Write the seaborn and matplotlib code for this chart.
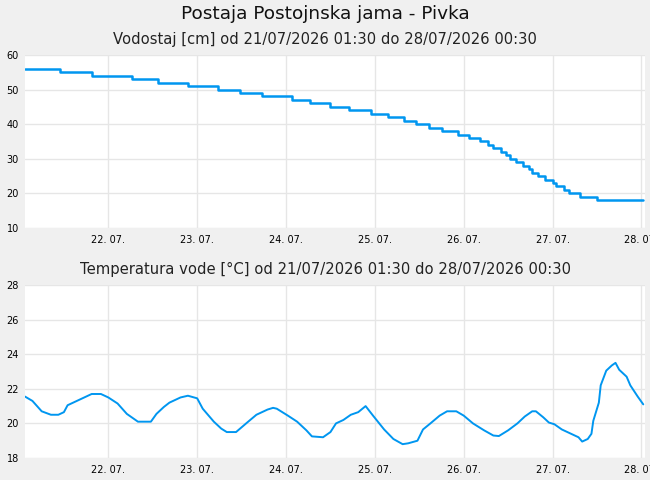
#!/usr/bin/env python3
"""Postaja Postojnska jama - Pivka: water level and water temperature."""
import matplotlib
matplotlib.use("Agg")
import matplotlib.dates as mdates
import matplotlib.pyplot as plt
import pandas as pd
import seaborn as sns

START = "2026-07-21 01:30"
END = "2026-07-28 00:30"

# water level: times at which the reading changes, and the new level (cm)
level_times = [
    "21 01:30", "21 11:00", "21 19:30", "22 06:30", "22 13:30", "22 21:30",
    "23 05:30", "23 11:30", "23 17:30", "24 01:30", "24 06:30", "24 12:00",
    "24 17:00", "24 23:00", "25 03:30", "25 08:00", "25 11:00", "25 14:30",
    "25 18:00", "25 22:30", "26 01:30", "26 04:30", "26 06:30", "26 08:00",
    "26 10:00", "26 11:30", "26 12:30", "26 14:00", "26 16:00", "26 17:30",
    "26 18:30", "26 20:00", "26 22:00", "27 00:00", "27 01:00", "27 03:00",
    "27 04:30", "27 07:30", "27 12:00", "28 00:30",
]
level_cm = [
    56, 55, 54, 53, 52, 51,
    50, 49, 48, 47, 46, 45,
    44, 43, 42, 41, 40, 39,
    38, 37, 36, 35, 34, 33,
    32, 31, 30, 29, 28, 27,
    26, 25, 24, 23, 22, 21,
    20, 19, 18, 18,
]

# water temperature (deg C)
temp_times = [
    "21 01:30", "21 03:30", "21 06:00", "21 08:30", "21 10:30", "21 12:00",
    "21 13:00", "21 14:30", "21 17:30", "21 19:30", "21 22:00", "22 00:00",
    "22 02:30", "22 05:00", "22 08:00", "22 11:30", "22 13:00", "22 15:00",
    "22 16:30", "22 19:30", "22 21:30", "23 00:00", "23 01:30", "23 04:30",
    "23 06:30", "23 08:00", "23 10:30", "23 13:30", "23 16:00", "23 19:00",
    "23 20:30", "23 21:30", "24 00:30", "24 03:00", "24 05:30", "24 07:00",
    "24 10:00", "24 12:00", "24 13:30", "24 15:30", "24 17:30", "24 19:30",
    "24 21:30", "24 23:30", "25 02:30", "25 05:00", "25 07:30", "25 09:00",
    "25 11:30", "25 13:00", "25 15:00", "25 17:30", "25 19:30", "25 22:00",
    "26 00:00", "26 02:30", "26 05:30", "26 08:00", "26 09:30", "26 12:00",
    "26 14:30", "26 16:30", "26 18:30", "26 19:30", "26 21:30", "26 23:00",
    "27 00:30", "27 02:30", "27 04:30", "27 07:00", "27 08:00", "27 09:30",
    "27 10:30", "27 11:00", "27 12:30", "27 13:00", "27 14:30", "27 16:00",
    "27 17:00", "27 18:00", "27 20:00", "27 21:00", "27 23:00", "28 00:30",
]
temp_c = [
    21.55, 21.3, 20.7, 20.5, 20.5, 20.65,
    21.05, 21.2, 21.5, 21.7, 21.7, 21.5,
    21.15, 20.55, 20.1, 20.1, 20.55, 20.95,
    21.2, 21.5, 21.6, 21.45, 20.85, 20.1,
    19.7, 19.5, 19.5, 20.05, 20.5, 20.8,
    20.9, 20.85, 20.45, 20.1, 19.6, 19.25,
    19.2, 19.5, 20.0, 20.2, 20.5, 20.65,
    21.0, 20.45, 19.65, 19.1, 18.8, 18.85,
    19.0, 19.65, 20.0, 20.45, 20.7, 20.7,
    20.45, 20.0, 19.6, 19.3, 19.27, 19.6,
    20.0, 20.4, 20.7, 20.7, 20.35, 20.05,
    19.95, 19.65, 19.45, 19.2, 18.95, 19.1,
    19.4, 20.15, 21.2, 22.2, 23.05, 23.35,
    23.5, 23.1, 22.7, 22.2, 21.55, 21.1,
]

BG = "#f0f0f0"
LINE = "#0096f0"
GRID = "#e6e6e6"


def to_dt(labels):
    return pd.to_datetime(["2026-07-" + s for s in labels], format="%Y-%m-%d %H:%M")


def style_axis(ax, ylim, yticks):
    ax.set_facecolor("white")
    ax.set_xlim(pd.Timestamp(START), pd.Timestamp(END) + pd.Timedelta(minutes=30))
    ax.set_ylim(*ylim)
    ax.set_yticks(yticks)
    ax.xaxis.set_major_locator(mdates.DayLocator())
    ax.xaxis.set_major_formatter(mdates.DateFormatter("%d. %m."))
    ax.grid(True, color=GRID, linewidth=1)
    for s in ax.spines.values():
        s.set_visible(False)
    ax.tick_params(length=0, labelsize=7, colors="black")
    ax.tick_params(axis="y", pad=4.5)
    ax.tick_params(axis="x", pad=5)
    ax.set_xlabel("")
    ax.set_ylabel("")


def main() -> None:
    sns.set_style("white")
    plt.rcParams["font.family"] = ["DejaVu Sans"]

    level = pd.DataFrame({"t": to_dt(level_times), "v": level_cm})
    temp = pd.DataFrame({"t": to_dt(temp_times), "v": temp_c})

    fig = plt.figure(figsize=(6.5, 4.8), dpi=100, facecolor=BG)
    ax1 = fig.add_axes([0.0385, 0.525, 0.954, 0.3605])
    ax2 = fig.add_axes([0.0385, 0.0458, 0.954, 0.3605])

    sns.lineplot(data=level, x="t", y="v", ax=ax1, color=LINE, linewidth=1.8,
                 drawstyle="steps-post")
    sns.lineplot(data=temp, x="t", y="v", ax=ax2, color=LINE, linewidth=1.4)

    style_axis(ax1, (10, 60), range(10, 61, 10))
    style_axis(ax2, (18, 28), range(18, 29, 2))

    fig.text(0.5, 0.97, "Postaja Postojnska jama - Pivka", ha="center", va="center",
             fontsize=13.3, color="#111111")
    fig.text(0.5, 0.917, "Vodostaj [cm] od 21/07/2026 01:30 do 28/07/2026 00:30",
             ha="center", va="center", fontsize=10.6, color="#222222")
    fig.text(0.5, 0.438, "Temperatura vode [°C] od 21/07/2026 01:30 do 28/07/2026 00:30",
             ha="center", va="center", fontsize=10.6, color="#222222")

    fig.savefig("out.png", dpi=100, facecolor=BG)
    plt.close(fig)


if __name__ == "__main__":
    main()
